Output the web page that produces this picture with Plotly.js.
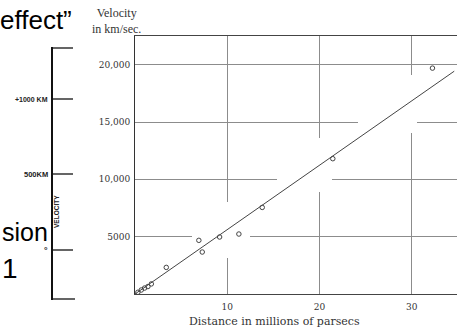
<!DOCTYPE html>
<html>
<head>
<meta charset="utf-8">
<script src="https://cdn.plot.ly/plotly-3.0.1.min.js"></script>
<style>
  html, body { margin: 0; padding: 0; background: #fff; }
  #chart { width: 457px; height: 331px; }
</style>
</head>
<body>
<div id="chart"></div>
<script>
// Hubble & Humason (1931): velocity–distance relation for nebulae
const distanceMpc = [0.31, 0.68, 1.04, 1.40, 1.77, 3.39, 6.92, 7.29, 9.17, 11.26, 13.79, 21.44, 32.24];
const velocityKms = [150, 350, 520, 650, 880, 2320, 4680, 3660, 4970, 5230, 7550, 11800, 19700];

// straight-line fit through the origin
const fitDistance = [0, 34.6];
const fitVelocity = [0, 19430];

// axis ticks
const xTickVals = [10, 20, 30];
const xTickText = ['10', '20', '30'];
const yTickVals = [5000, 10000, 15000, 20000];
const yTickText = ['5000', '10,000', '15,000', '20,000'];

// older diagram beside it: velocity scale
const sideTickText = ['+1000 KM', '500KM', '°'];

const INK = '#333';
const GRID = '#8c8c8c';
const SERIF = '"DejaVu Serif", "Liberation Serif", serif';
const SANS = '"Liberation Sans", Arial, sans-serif';

// pixel helpers for page decorations (plot area: left 135, top 36, 322 x 258)
const PL = 135, PT = 36, PW = 322, PH = 258;
const XMAX = 34.9, YMAX = 22500;
const fx = px => (px - PL) / PW;
const fy = py => (PT + PH - py) / PH;
const dx = px => (px - PL) / PW * XMAX;
const dy = py => (PT + PH - py) / PH * YMAX;

const traces = [
  {
    x: fitDistance, y: fitVelocity, mode: 'lines', type: 'scatter',
    line: { color: '#444', width: 1 }, hoverinfo: 'skip'
  },
  {
    x: distanceMpc, y: velocityKms, mode: 'markers', type: 'scatter',
    marker: { symbol: 'circle-open', size: 4.5, color: '#444', line: { width: 1, color: '#444' } }
  }
];

const shapes = [];
const annotations = [];

// the engraved grid is broken where it runs into the plotted points
function gap(x0, x1, y0, y1) {
  shapes.push({ type: 'rect', xref: 'x', yref: 'y', layer: 'between',
    x0: dx(x0), x1: dx(x1), y0: dy(y0), y1: dy(y1),
    fillcolor: '#fff', line: { width: 0 } });
}
gap(225, 231, 202, 258);   // 10 Mpc line
gap(317, 323, 138, 192);   // 20 Mpc line
gap(409, 415, 75, 133);    // 30 Mpc line
gap(358, 417, 119, 125);   // 15,000 line
gap(277, 332, 177, 183);   // 10,000 line
gap(192, 250, 234, 240);   // 5000 line
gap(135.5, 145, 290, 296); // foot of the baseline

function hline(x0, x1, y, w) {
  shapes.push({ type: 'line', xref: 'paper', yref: 'paper', x0: fx(x0), x1: fx(x1), y0: fy(y), y1: fy(y),
    line: { color: '#111', width: w || 1.3 } });
}
// side velocity scale: spine and ticks
shapes.push({ type: 'line', xref: 'paper', yref: 'paper', x0: fx(52), x1: fx(52), y0: fy(47), y1: fy(300),
  line: { color: '#111', width: 2 } });
hline(52, 73, 48);
hline(52, 73, 99);
hline(52, 73, 174);
hline(52, 73, 250);
hline(52, 75, 299);

const sideTickY = [99, 174, 250];
const sideTickSize = [7, 7.5, 9];
sideTickText.forEach((t, i) => {
  annotations.push({ xref: 'paper', yref: 'paper', x: fx(50), y: fy(sideTickY[i]), text: t,
    showarrow: false, xanchor: 'right', yanchor: 'middle',
    font: { family: SANS, size: sideTickSize[i], color: '#222', weight: 700 } });
});
annotations.push({ xref: 'paper', yref: 'paper', x: fx(56), y: fy(212), text: 'VELOCITY',
  showarrow: false, textangle: -90, xanchor: 'center', yanchor: 'middle',
  font: { family: SANS, size: 6.5, color: '#222', weight: 700 } });

// slide text beside the diagrams
annotations.push({ xref: 'paper', yref: 'paper', x: fx(-2), y: fy(20), text: 'effect”',
  showarrow: false, xanchor: 'left', yanchor: 'middle',
  font: { family: SANS, size: 26, color: '#000' } });
annotations.push({ xref: 'paper', yref: 'paper', x: fx(0), y: fy(232), text: 'sion',
  showarrow: false, xanchor: 'left', yanchor: 'middle',
  font: { family: SANS, size: 25, color: '#000' } });
annotations.push({ xref: 'paper', yref: 'paper', x: fx(0), y: fy(268), text: '1',
  showarrow: false, xanchor: 'left', yanchor: 'middle',
  font: { family: SANS, size: 28, color: '#000' } });

// axis captions of the velocity–distance diagram
annotations.push({ xref: 'paper', yref: 'paper', x: fx(116), y: fy(21), text: 'Velocity<br>in km/sec.',
  showarrow: false, xanchor: 'center', yanchor: 'middle',
  font: { family: '"Liberation Serif", serif', size: 12, color: INK } });
annotations.push({ xref: 'paper', yref: 'paper', x: fx(274), y: fy(321), text: 'Distance in millions of parsecs',
  showarrow: false, xanchor: 'center', yanchor: 'middle',
  font: { family: SERIF, size: 11, color: INK } });

const layout = {
  width: 457, height: 331,
  margin: { l: PL, r: 0, t: PT, b: 331 - PT - PH, pad: 0 },
  paper_bgcolor: '#fff', plot_bgcolor: '#fff',
  showlegend: false,
  xaxis: {
    range: [0, XMAX], tickvals: xTickVals, ticktext: xTickText,
    showgrid: true, gridcolor: GRID, gridwidth: 1,
    zeroline: false, showline: true, linecolor: '#444', linewidth: 1, mirror: true,
    ticks: '', ticklabelstandoff: 4, tickfont: { family: SERIF, size: 9, color: INK }
  },
  yaxis: {
    range: [0, YMAX], tickvals: yTickVals, ticktext: yTickText,
    showgrid: true, gridcolor: GRID, gridwidth: 1,
    zeroline: false, showline: true, linecolor: '#333', linewidth: 1,
    ticks: '', ticklabelstandoff: 2, tickfont: { family: SERIF, size: 9, color: INK }
  },
  shapes: shapes,
  annotations: annotations
};

Plotly.newPlot('chart', traces, layout, { staticPlot: true, displayModeBar: false });
</script>
</body>
</html>
